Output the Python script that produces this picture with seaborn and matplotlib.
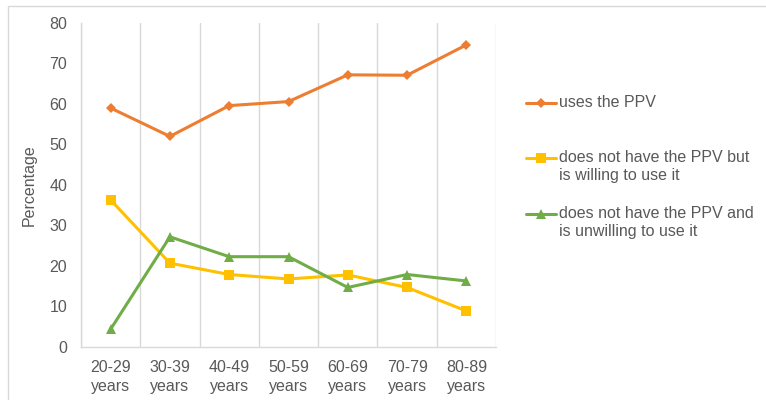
import matplotlib
matplotlib.use("Agg")
import matplotlib.pyplot as plt
from matplotlib.patches import Rectangle
from matplotlib.ticker import FixedLocator
import seaborn as sns
import pandas as pd

categories = ["20-29\nyears", "30-39\nyears", "40-49\nyears", "50-59\nyears",
              "60-69\nyears", "70-79\nyears", "80-89\nyears"]
uses_ppv = [59.0, 52.0, 59.6, 60.6, 67.2, 67.1, 74.6]
willing = [36.3, 20.7, 17.9, 16.8, 17.8, 14.7, 8.9]
unwilling = [4.4, 27.2, 22.3, 22.3, 14.7, 17.9, 16.3]
series_names = ["uses the PPV",
                "does not have the PPV but\nis willing to use it",
                "does not have the PPV and\nis unwilling to use it"]
y_ticks = [0, 10, 20, 30, 40, 50, 60, 70, 80]

sns.set_style("white")
plt.rcParams["font.family"] = ["Liberation Sans", "DejaVu Sans"]
TXT = "#595959"
GRID = "#d9d9d9"
FS = 11.5

df = pd.DataFrame({
    "pos": list(range(len(categories))) * 3,
    "value": uses_ppv + willing + unwilling,
    "series": [series_names[0]] * 7 + [series_names[1]] * 7 + [series_names[2]] * 7,
})

fig = plt.figure(figsize=(7.66, 4.0), dpi=100)
ax = fig.add_axes([81 / 766, 53 / 400, 415 / 766, 324 / 400])

palette = {series_names[0]: "#ED7D31", series_names[1]: "#FFC000", series_names[2]: "#70AD47"}
markers = {series_names[0]: "D", series_names[1]: "s", series_names[2]: "^"}
sizes = {series_names[0]: 5.5, series_names[1]: 7, series_names[2]: 7.5}

for name in series_names:
    sub = df[df["series"] == name]
    sns.lineplot(data=sub, x="pos", y="value", ax=ax, color=palette[name],
                 marker=markers[name], markersize=sizes[name], markeredgewidth=0,
                 linewidth=2.2, label=name, legend=False)

ax.set_xlim(-0.5, len(categories) - 0.5)
ax.set_ylim(0, 80)
ax.set_xticks(range(len(categories)))
ax.set_xticklabels(categories, linespacing=1.35)
ax.set_yticks(y_ticks)
ax.xaxis.set_minor_locator(FixedLocator([i - 0.5 for i in range(len(categories) + 1)]))
ax.grid(False)
ax.grid(which="minor", axis="x", color=GRID, linewidth=1.0)
ax.tick_params(axis="both", which="both", length=0, labelsize=FS, labelcolor=TXT)
ax.tick_params(axis="x", pad=9)
ax.tick_params(axis="y", pad=10)
for s in ["top", "right"]:
    ax.spines[s].set_visible(False)
for s in ["left", "bottom"]:
    ax.spines[s].set_color(GRID)
    ax.spines[s].set_linewidth(1.0)
ax.set_xlabel("")
ax.set_ylabel("Percentage", fontsize=FS, color=TXT)
ax.yaxis.set_label_coords((37 - 81) / 415, 0.5)

handles, labels = ax.get_legend_handles_labels()
# pad labels to three lines so the marker sits on the first text line
labels = ["\n" + labels[0] + "\n "] + ["\n" + l for l in labels[1:]]
leg = fig.legend(handles, labels, loc="upper left",
                 bbox_to_anchor=(526 / 766, 1 - 77 / 400), frameon=False,
                 fontsize=FS, labelcolor=TXT, handlelength=1.9, handletextpad=0.15,
                 labelspacing=0.3, borderpad=0, borderaxespad=0)
for t in leg.get_texts():
    t.set_linespacing(1.24)

fig.patches.append(Rectangle((8 / 766, -0.1), 1.2, 1.1 - 6 / 400, transform=fig.transFigure,
                             fill=False, edgecolor=GRID, linewidth=1.0))

fig.savefig("out.png", dpi=100)
